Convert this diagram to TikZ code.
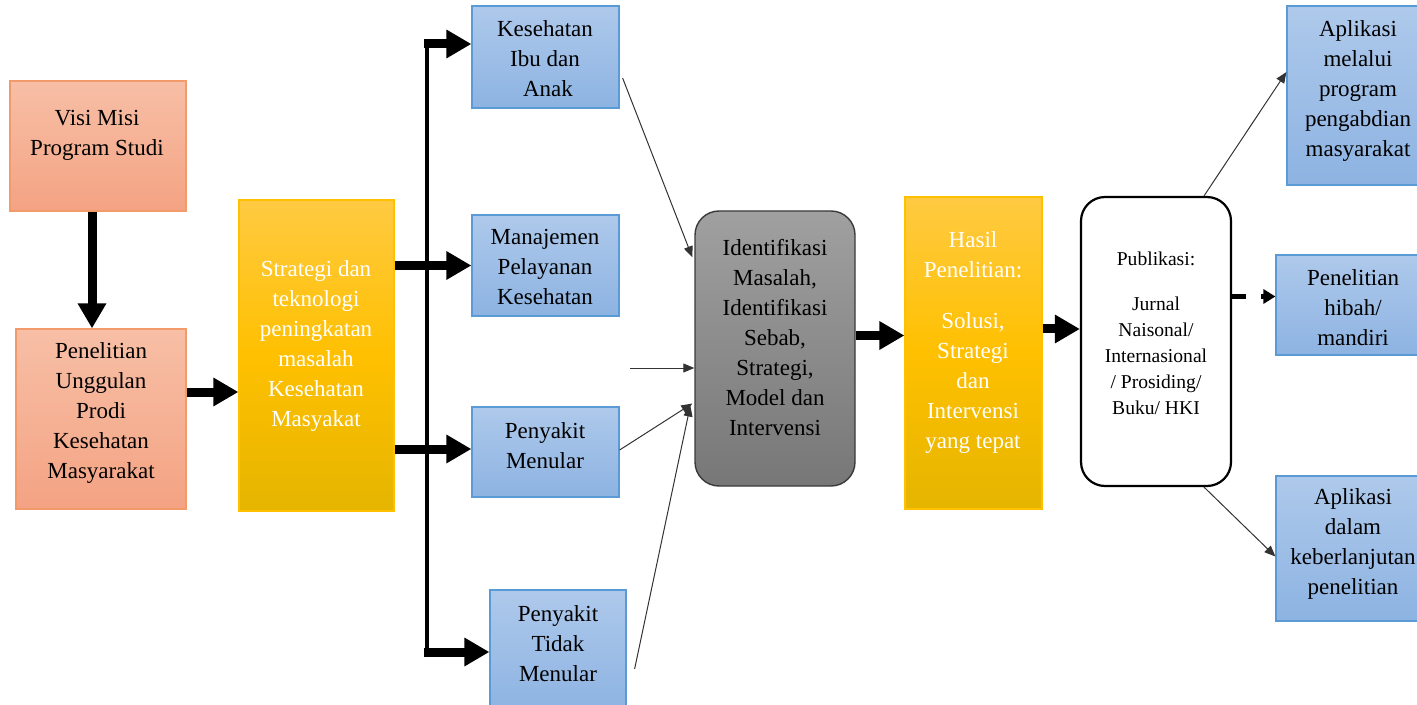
\documentclass[tikz,border=0pt]{standalone}
\usepackage{fontspec}
\setmainfont{Liberation Serif}
\usetikzlibrary{arrows.meta,fit,calc}
\definecolor{salmontop}{HTML}{F7BFA6}
\definecolor{salmonbot}{HTML}{F4A383}
\definecolor{salmonedge}{HTML}{F29A6A}
\definecolor{yellowtop}{HTML}{FFCA42}
\definecolor{yellowmid}{HTML}{FFC000}
\definecolor{yellowbot}{HTML}{E5B500}
\definecolor{yellowedge}{HTML}{FFC000}
\definecolor{bluetop}{HTML}{AEC9EB}
\definecolor{bluebot}{HTML}{8DB3E2}
\definecolor{blueedge}{HTML}{5B9BD5}
\definecolor{graytop}{HTML}{A0A0A0}
\definecolor{graybot}{HTML}{777777}
\definecolor{grayedge}{HTML}{3A3A3A}
\tikzset{
  boxbase/.style={draw, inner sep=0pt, line width=0.6pt},
  salmonbox/.style={boxbase, draw=salmonedge, top color=salmontop, bottom color=salmonbot},
  yellowbox/.style={boxbase, draw=yellowedge, top color=yellowtop, bottom color=yellowbot, middle color=yellowmid},
  bluebox/.style={boxbase, draw=blueedge, top color=bluetop, bottom color=bluebot},
  graybox/.style={boxbase, draw=grayedge, line width=0.7pt, rounded corners=12pt, top color=graytop, bottom color=graybot},
  pubbox/.style={boxbase, draw=black, line width=1.1pt, rounded corners=12pt, fill=white},
  txt/.style={align=center, inner sep=0pt, font=\fontsize{11.5}{15}\selectfont},
  wtxt/.style={txt, text=white},
  smalltxt/.style={align=center, inner sep=0pt, font=\fontsize{9.8}{13}\selectfont},
  bigarrow/.style={line width=4.5pt, -{Triangle[length=12.5pt,width=13.5pt]}},
  thinarrow/.style={line width=0.5pt, draw=black!80, -{Triangle[length=5.5pt,width=4.5pt]}},
  trunk/.style={line width=2pt},
  dasharrow/.style={line width=2.6pt, dash pattern=on 7pt off 7.5pt, -{Triangle[length=6pt,width=7pt]}}
}
\begin{document}
\begin{tikzpicture}[x=0.5pt,y=-0.5pt]
\useasboundingbox (0,0) rectangle (1417,705);
% boxes
\node[salmonbox, fit={(10,81)(186,211)}] (vm) {};
\node[salmonbox, fit={(16,329)(186,509)}] (pu) {};
\node[yellowbox, fit={(239,200)(394,511)}] (st) {};
\node[bluebox, fit={(472,6)(619,108)}] (kia) {};
\node[bluebox, fit={(472,215)(619,316)}] (mp) {};
\node[bluebox, fit={(472,407)(619,497)}] (pm) {};
\node[bluebox, fit={(490,590)(626,712)}] (ptm) {};
\node[graybox, fit={(695,211)(855,486)}] (id) {};
\node[yellowbox, fit={(905,197)(1042,509)}] (hp) {};
\node[pubbox, fit={(1081,197)(1231,486)}] (pub) {};
\node[bluebox, fit={(1287,6)(1440,185)}] (am) {};
\node[bluebox, fit={(1276,255)(1440,355)}] (ph) {};
\node[bluebox, fit={(1276,476)(1440,621)}] (ad) {};
% texts
\node[txt] (vmT) at (97,135) {Visi Misi\\Program Studi};
\node[txt] (puT) at (101,413) {Penelitian\\Unggulan\\Prodi\\Kesehatan\\Masyarakat};
\node[wtxt] (stT) at (316,346) {Strategi dan\\teknologi\\peningkatan\\masalah\\Kesehatan\\Masyakat};
\node[txt] (kiaT) at (545,59) {Kesehatan\\Ibu dan\\\hspace*{3pt}Anak};
\node[txt] (mpT) at (545,267) {Manajemen\\Pelayanan\\Kesehatan};
\node[txt] (pmT) at (545,446) {Penyakit\\Menular};
\node[txt] (ptmT) at (558,644) {Penyakit\\Tidak\\Menular};
\node[txt] (idT) at (775,338) {Identifikasi\\Masalah,\\Identifikasi\\Sebab,\\Strategi,\\Model dan\\Intervensi};
\node[wtxt] (hpT) at (973,343) {Hasil\\Penelitian:\\[10.5pt]Solusi,\\Strategi\\dan\\Intervensi\\yang tepat};
\node[smalltxt] (pubT) at (1156,333) {Publikasi:\\[9.5pt]Jurnal\\Naisonal/\\Internasional\\/ Prosiding/\\Buku/ HKI};
\node[txt] (amT) at (1358,91) {Aplikasi\\melalui\\program\\pengabdian\\masyarakat};
\node[txt] (phT) at (1353,308) {Penelitian\\hibah/\\mandiri};
\node[txt] (adT) at (1353,544) {Aplikasi\\dalam\\keberlanjutan\\penelitian};
% connectors left part
\draw[bigarrow] (vm.south -| 92,0) -- (pu.north -| 92,0);
\draw[bigarrow] (pu.east |- 0,392) -- (st.west |- 0,392);
\coordinate (j1) at (427,44);
\coordinate (j4) at (427,652);
\coordinate (j1s) at (424,44);
\coordinate (j4s) at (424,652);
\draw[trunk] (j1) -- (j4);
\draw[bigarrow] (j1s) -- (j1s -| kia.west);
\draw[bigarrow] (st.east |- mp.west) -- (mp.west);
\draw[bigarrow] ($(st.east |- pm.west)+(0,-3)$) -- ($(pm.west)+(0,-3)$);
\draw[bigarrow] (j4s) -- (j4s -| ptm.west);
% thin arrows into identification box
\draw[thinarrow] ($(kia.east)+(3,21)$) -- ($(id.north west)+(-2,47)$);
\coordinate (c1) at (630,368);
\draw[thinarrow] (c1) -- (c1 -| id.west);
\draw[thinarrow] ($(pm.east)+(0,-2)$) -- ($(id.west)+(-2,55)$);
\draw[thinarrow] ($(ptm.east)+(8,18)$) -- ($(id.west)+(-4,57)$);
% main flow
\coordinate (a1) at ($(id.east)+(0,-13)$);
\draw[bigarrow] (a1) -- (a1 -| hp.west);
\coordinate (a2) at ($(hp.east)+(0,-24)$);
\draw[bigarrow] (a2) -- (a2 -| pub.west);
% outputs
\draw[thinarrow] ($(pub.north)+(48,0)$) -- ($(am.west |- 0,72)$);
\coordinate (a3) at ($(pub.east)+(0,-45)$);
\draw[dasharrow] (a3) -- (a3 -| ph.west);
\draw[thinarrow] ($(pub.south)+(48,0)$) -- ($(ad.west)+(0,8)$);
\end{tikzpicture}
\end{document}
